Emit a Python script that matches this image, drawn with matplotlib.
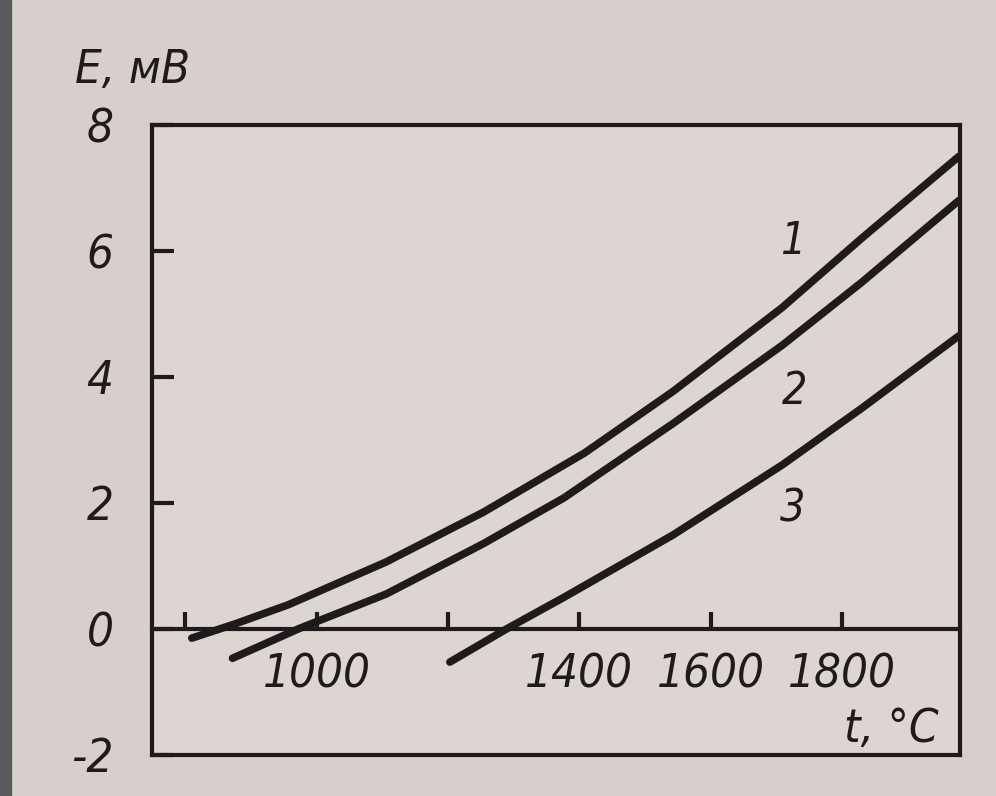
import matplotlib.pyplot as plt
import matplotlib.font_manager as fm
from matplotlib.patches import Rectangle

# значения (t в °C, E в мВ)
t1 = [810, 877, 957, 1106, 1254, 1408, 1543, 1709, 1830, 1978]
e1 = [-0.15, 0.08, 0.38, 1.06, 1.85, 2.79, 3.77, 5.1, 6.2, 7.5]

t2 = [872, 973, 1106, 1254, 1377, 1543, 1709, 1830, 1978]
e2 = [-0.47, 0.0, 0.55, 1.35, 2.08, 3.26, 4.5, 5.5, 6.8]

t3 = [1203, 1290, 1377, 1543, 1709, 1830, 1978]
e3 = [-0.53, 0.0, 0.5, 1.49, 2.6, 3.5, 4.65]

curve_names = ['1', '2', '3']
name_t = [1725, 1728, 1725]
name_e = [6.15, 3.76, 1.9]

x_ticks = [800, 1000, 1200, 1400, 1600, 1800]
x_labels = ['', '1000', '', '1400', '1600', '1800']
y_ticks = [-2, 0, 2, 4, 6, 8]
y_labels = ['-2', '0', '2', '4', '6', '8']

ink = '#1f1a1c'
paper = '#d7cfcb'

# узкий шрифт, если он есть; иначе обычный DejaVu Sans поменьше
fam = ['DejaVu Sans']
stretch = 'normal'
fs = 29
names = {f.name for f in fm.fontManager.ttflist}
if 'Liberation Sans Narrow' in names:
    fam = ['Liberation Sans Narrow', 'DejaVu Sans']
    fs = 39
elif any('Condensed' in f.fname and f.name == 'DejaVu Sans' for f in fm.fontManager.ttflist):
    stretch = 'condensed'
    fs = 34

txt = dict(fontstyle='italic', color=ink, family=fam, fontstretch=stretch)

fig = plt.figure(figsize=(9.96, 7.96), dpi=100, facecolor=paper)
ax = fig.add_axes([0.153, 0.052, 0.811, 0.791])
ax.set_facecolor('#dcd5d2')

# тёмная полоса слева (край фотографии)
fig.patches.append(Rectangle((0, 0), 0.011, 1, transform=fig.transFigure, color='#5a5a5c', zorder=0))

for tt, ee in [(t1, e1), (t2, e2), (t3, e3)]:
    ax.plot(tt, ee, color=ink, lw=5.5, solid_capstyle='round', solid_joinstyle='round')

for n, xt, ye in zip(curve_names, name_t, name_e):
    ax.text(xt, ye, n, fontsize=fs - 2, ha='center', va='center', **txt)

ax.set_xlim(750, 1980)
ax.set_ylim(-2, 8)

for s in ax.spines.values():
    s.set_linewidth(3)
    s.set_color(ink)

ax.set_xticks([])
ax.set_yticks(y_ticks, y_labels)
ax.tick_params(axis='y', direction='in', length=16, width=3, color=ink, pad=28, labelsize=fs)
for lab in ax.get_yticklabels():
    lab.update(txt)

# ось t проходит по линии E = 0
sec = ax.secondary_xaxis(0.2)
sec.spines['bottom'].set_linewidth(3)
sec.spines['bottom'].set_color(ink)
sec.set_xticks(x_ticks, x_labels)
sec.tick_params(axis='x', direction='in', length=12, width=3, color=ink, pad=17, labelsize=fs)
for lab in sec.get_xticklabels():
    lab.update(txt)

fig.text(0.133, 0.912, 'E, мВ', fontsize=fs, ha='center', va='center', **txt)
ax.text(0.915, 0.04, 't, °C', transform=ax.transAxes, fontsize=fs, ha='center', va='center', **txt)

plt.savefig('out.png', dpi=100, facecolor=paper)
